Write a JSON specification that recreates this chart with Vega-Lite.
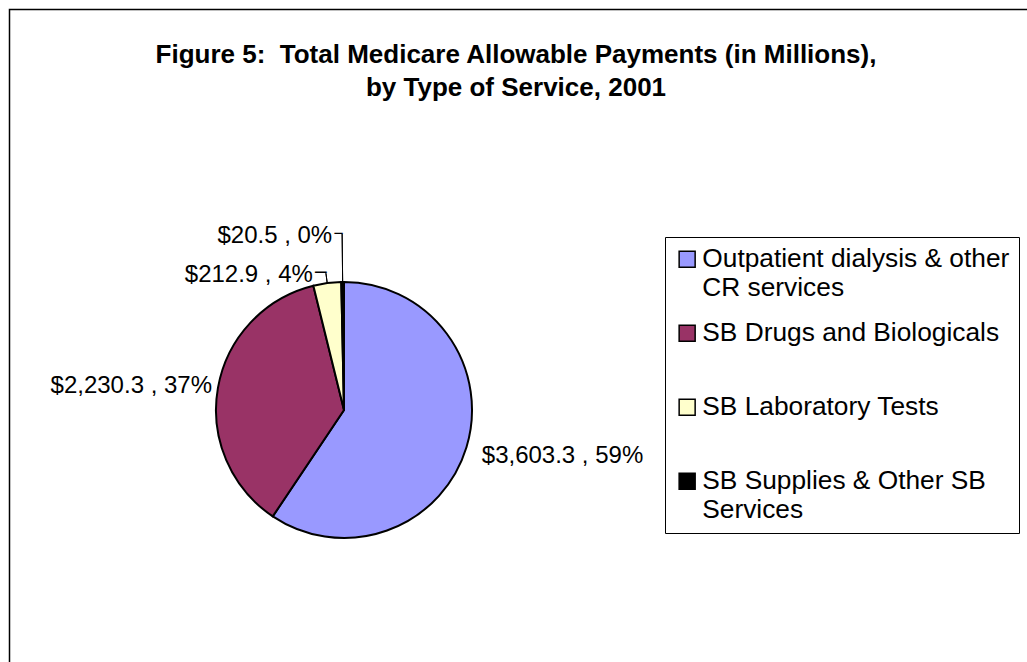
{
  "$schema": "https://vega.github.io/schema/vega-lite/v6.json",
  "width": 1018,
  "height": 653,
  "autosize": {"type": "none"},
  "padding": {"left": 9, "top": 9, "right": 0, "bottom": 0},
  "background": "white",
  "config": {
    "view": {"stroke": null},
    "font": "Liberation Sans"
  },
  "title": {
    "text": ["Figure 5:\u00a0 Total Medicare Allowable Payments (in Millions),", "by Type of Service, 2001"],
    "font": "Liberation Sans",
    "fontSize": 26,
    "fontWeight": "bold",
    "color": "black",
    "anchor": "middle",
    "baseline": "alphabetic",
    "offset": -113,
    "lineHeight": 33,
    "dx": -2
  },
  "layer": [
    {
      "data": {"values": [{}]},
      "mark": {"type": "rect", "x": 0.5, "y": 0.5, "x2": {"expr": "width + 40"}, "y2": {"expr": "height + 40"}, "fill": null, "fillOpacity": 0, "stroke": "black", "strokeWidth": 1.5},
      "encoding": {}
    },
    {
      "data": {
        "values": [
          {"cat": "Outpatient dialysis & other CR services", "value": 3603.3, "label": "$3,603.3 , 59%"},
          {"cat": "SB Drugs and Biologicals", "value": 2230.3, "label": "$2,230.3 , 37%"},
          {"cat": "SB Laboratory Tests", "value": 212.9, "label": "$212.9 , 4%"},
          {"cat": "SB Supplies & Other SB Services", "value": 20.5, "label": "$20.5 , 0%"}
        ]
      },
      "encoding": {
        "theta": {"field": "value", "type": "quantitative", "stack": true},
        "order": {"field": "cat", "sort": "ascending"}
      },
      "layer": [
        {
          "mark": {"type": "arc", "radius": 128, "x": 335, "y": 401, "stroke": "black", "strokeWidth": 2},
          "encoding": {
            "color": {
              "field": "cat",
              "type": "nominal",
              "scale": {
                "domain": ["Outpatient dialysis & other CR services", "SB Drugs and Biologicals", "SB Laboratory Tests", "SB Supplies & Other SB Services"],
                "range": ["#9999FF", "#993366", "#FFFFCC", "#000000"]
              },
              "legend": {
                "orient": "none",
                "legendX": 656,
                "legendY": 228,
                "title": null,
                "labelFont": "Liberation Sans",
                "labelFontSize": 26.3,
                "labelColor": "black",
                "labelLimit": 500,
                "labelOffset": 2,
                "labelBaseline": "alphabetic",
                "symbolType": "square",
                "symbolSize": 256,
                "symbolStrokeColor": "black",
                "symbolStrokeWidth": 1.5,
                "symbolOpacity": 1,
                "padding": 9,
                "strokeColor": "black",
                "fillColor": "white",
                "gridAlign": "all",
                "rowPadding": 18,
                "encode": {"labels": {"update": {"dy": {"value": 8}, "lineHeight": {"value": 29}}}},
                "labelExpr": "datum.label == 'Outpatient dialysis & other CR services' ? ['Outpatient dialysis & other', 'CR services'] : datum.label == 'SB Supplies & Other SB Services' ? ['SB Supplies & Other SB', 'Services'] : datum.label"
              }
            }
          }
        },
        {
          "mark": {"type": "arc", "radius": 176, "radius2": 128, "padAngle": 0.6, "x": 335, "y": 401, "fillOpacity": 0, "stroke": "black", "strokeWidth": 1},
          "encoding": {
            "strokeOpacity": {"condition": {"test": "datum.cat == 'SB Supplies & Other SB Services'", "value": 1}, "value": 0}
          }
        },
        {
          "mark": {"type": "arc", "radius": 138, "radius2": 128, "padAngle": 0.6, "x": 335, "y": 401, "fillOpacity": 0, "stroke": "black", "strokeWidth": 1},
          "encoding": {
            "strokeOpacity": {"condition": {"test": "datum.cat == 'SB Laboratory Tests'", "value": 1}, "value": 0}
          }
        },
        {
          "mark": {"type": "text", "radius": 176, "x": 335, "y": 401, "align": "right", "baseline": "middle", "dx": 0.5, "fontSize": 13.5, "font": "DejaVu Sans Mono", "color": "black"},
          "encoding": {
            "text": {"condition": {"test": "datum.cat == 'SB Supplies & Other SB Services'", "value": "─"}, "value": ""}
          }
        },
        {
          "mark": {"type": "text", "radius": 138, "x": 335, "y": 401, "align": "right", "baseline": "middle", "dx": 0.5, "fontSize": 19, "font": "DejaVu Sans Mono", "color": "black"},
          "encoding": {
            "text": {"condition": {"test": "datum.cat == 'SB Laboratory Tests'", "value": "─"}, "value": ""}
          }
        },
        {
          "mark": {"type": "text", "radius": 144, "x": 335, "y": 401, "align": "left", "baseline": "alphabetic", "dy": 11, "fontSize": 24, "font": "Liberation Sans", "color": "black"},
          "encoding": {
            "text": {"condition": {"test": "datum.cat == 'Outpatient dialysis & other CR services'", "field": "label"}, "value": ""}
          }
        },
        {
          "mark": {"type": "text", "radius": 134, "x": 335, "y": 401, "align": "right", "baseline": "alphabetic", "dy": 6, "fontSize": 24, "font": "Liberation Sans", "color": "black"},
          "encoding": {
            "text": {"condition": {"test": "datum.cat == 'SB Drugs and Biologicals'", "field": "label"}, "value": ""}
          }
        },
        {
          "mark": {"type": "text", "radius": 138, "x": 335, "y": 401, "align": "right", "baseline": "alphabetic", "dx": -13, "dy": 9, "fontSize": 24, "font": "Liberation Sans", "color": "black"},
          "encoding": {
            "text": {"condition": {"test": "datum.cat == 'SB Laboratory Tests'", "field": "label"}, "value": ""}
          }
        },
        {
          "mark": {"type": "text", "radius": 170, "x": 335, "y": 401, "align": "right", "baseline": "alphabetic", "dx": -10, "dy": 3, "fontSize": 24, "font": "Liberation Sans", "color": "black"},
          "encoding": {
            "text": {"condition": {"test": "datum.cat == 'SB Supplies & Other SB Services'", "field": "label"}, "value": ""}
          }
        }
      ]
    }
  ]
}
